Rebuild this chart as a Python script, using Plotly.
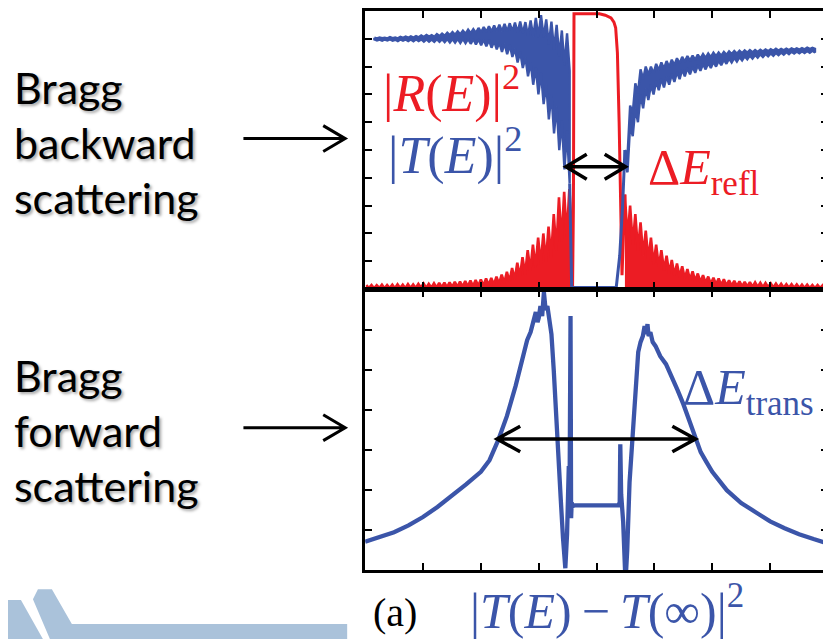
import plotly.graph_objects as go

# page body has an 8px margin: the figure is drawn from (8,8) of the window
OFF = 8
W, H = 831 - OFF, 639 - OFF

# ---------------- data ----------------
# top panel, |T(E)|^2 : teeth maxima / minima left of the stop band (x0=0.16, step 0.09)
t_left_hi = [0.904, 0.905, 0.904, 0.906, 0.905, 0.907, 0.908, 0.909, 0.910, 0.912,
             0.914, 0.913, 0.917, 0.919, 0.922, 0.924, 0.927, 0.929, 0.933, 0.935,
             0.939, 0.942, 0.945, 0.948, 0.951, 0.954, 0.956, 0.958, 0.962, 0.960,
             0.966, 0.975, 0.985, 0.970, 0.962, 0.950, 0.930, 0.920]
t_left_lo = [0.894, 0.893, 0.894, 0.893, 0.892, 0.893, 0.892, 0.891, 0.892, 0.890,
             0.890, 0.889, 0.889, 0.888, 0.887, 0.886, 0.885, 0.884, 0.882, 0.880,
             0.877, 0.873, 0.868, 0.862, 0.853, 0.845, 0.835, 0.815, 0.795, 0.765,
             0.735, 0.700, 0.665, 0.610, 0.560, 0.500, 0.430, 0.380]
# inside the stop band
t_gap_x = [3.535, 3.55, 3.57, 4.34, 4.40, 4.45, 4.49]
t_gap_y = [0.380, 0.15, 0.006, 0.006, 0.12, 0.30, 0.50]
# right of the stop band (x0=4.49, step 0.09)
t_right_hi = [0.50, 0.66, 0.74, 0.79, 0.80, 0.80, 0.81, 0.815, 0.82, 0.825,
              0.83, 0.835, 0.838, 0.840, 0.843, 0.845, 0.847, 0.850, 0.851, 0.853,
              0.855, 0.856, 0.857, 0.858, 0.859, 0.860, 0.861, 0.862, 0.863, 0.864,
              0.864, 0.865, 0.866, 0.866, 0.867, 0.868, 0.868]
t_right_lo = [0.42, 0.55, 0.60, 0.65, 0.68, 0.70, 0.715, 0.725, 0.735, 0.745,
              0.755, 0.765, 0.772, 0.778, 0.785, 0.790, 0.795, 0.800, 0.805, 0.810,
              0.815, 0.818, 0.822, 0.826, 0.829, 0.832, 0.835, 0.837, 0.839, 0.841,
              0.843, 0.845, 0.847, 0.848, 0.849, 0.850, 0.851]

# top panel, |R(E)|^2 : teeth left of the band (x0=0.02, step 0.09)
r_left_hi = [0.014, 0.015, 0.014, 0.016, 0.015, 0.016, 0.017, 0.016, 0.018, 0.017,
             0.019, 0.020, 0.019, 0.021, 0.022, 0.023, 0.024, 0.026, 0.027, 0.029,
             0.031, 0.033, 0.035, 0.038, 0.040, 0.045, 0.052, 0.062, 0.076, 0.095,
             0.115, 0.140, 0.160, 0.185, 0.200, 0.225, 0.270, 0.330, 0.350, 0.360]
r_left_lo = [0.004, 0.003, 0.004, 0.003, 0.004, 0.003, 0.004, 0.003, 0.004, 0.004,
             0.005, 0.004, 0.005, 0.005, 0.006, 0.006, 0.007, 0.007, 0.008, 0.009,
             0.010, 0.011, 0.012, 0.014, 0.016, 0.019, 0.022, 0.027, 0.034, 0.044,
             0.054, 0.066, 0.078, 0.090, 0.100, 0.115, 0.140, 0.170, 0.190, 0.200]
# reflection band
r_band_x = [3.575, 3.585, 3.60, 3.61, 4.05, 4.15, 4.25, 4.30, 4.33, 4.36, 4.39, 4.42, 4.44, 4.49]
r_band_y = [0.200, 0.006, 0.30, 0.99, 0.99, 0.985, 0.975, 0.96, 0.94, 0.85, 0.60, 0.30, 0.05, 0.34]
# right of the band (x0=4.49, step 0.09)
r_right_hi = [0.34, 0.30, 0.27, 0.24, 0.21, 0.185, 0.16, 0.14, 0.12, 0.105,
              0.092, 0.082, 0.072, 0.064, 0.056, 0.050, 0.045, 0.041, 0.038, 0.035,
              0.032, 0.030, 0.028, 0.026, 0.025, 0.024, 0.023, 0.022, 0.021, 0.020,
              0.019, 0.018, 0.018, 0.017, 0.016, 0.016, 0.015, 0.015, 0.014, 0.014]
r_right_lo = [0.180, 0.160, 0.140, 0.120, 0.105, 0.090, 0.080, 0.068, 0.058, 0.050,
              0.044, 0.038, 0.033, 0.029, 0.025, 0.022, 0.019, 0.017, 0.015, 0.013,
              0.012, 0.011, 0.010, 0.009, 0.008, 0.008, 0.007, 0.007, 0.006, 0.006,
              0.005, 0.005, 0.005, 0.004, 0.004, 0.004, 0.004, 0.004, 0.004, 0.004]

# bottom panel, |T(E) - T(inf)|^2
b_x = [0.0, 0.25, 0.5, 0.75, 1.0, 1.25, 1.5, 1.75, 2.0, 2.15, 2.3, 2.45, 2.6, 2.7, 2.8,
       2.86, 2.9, 2.95, 2.98, 3.0, 3.03, 3.06, 3.09, 3.12, 3.15, 3.18, 3.22, 3.26, 3.30,
       3.34, 3.38, 3.42, 3.46, 3.49, 3.52, 3.535, 3.55, 3.56, 3.57, 3.58, 3.62, 4.0, 4.38,
       4.40, 4.41, 4.425, 4.46, 4.5, 4.53, 4.57, 4.62, 4.68, 4.72, 4.76, 4.8, 4.83, 4.86,
       4.88, 4.9, 4.93, 4.97, 5.02, 5.1, 5.2, 5.3, 5.4, 5.5, 5.6, 5.7, 5.8, 5.9, 6.0, 6.25,
       6.5, 6.75, 7.0, 7.25, 7.5, 7.75, 8.0]
b_y = [0.71, 0.82, 0.95, 1.12, 1.33, 1.58, 1.85, 2.15, 2.46, 2.75, 3.25, 3.85, 4.6, 5.2, 5.75,
       5.95, 6.15, 6.45, 6.2, 6.3, 6.6, 6.35, 6.95, 6.5, 6.6, 6.2, 5.9, 5.0, 3.8,
       2.6, 1.8, 0.8, 0.05, 0.9, 2.6, 2.3, 6.35, 1.3, 1.7, 1.6, 1.62, 1.62, 1.62,
       1.7, 3.15, 1.9, 1.2, -0.3, 0.5, 2.2, 3.3, 4.7, 5.45, 5.7, 5.85, 6.1, 5.9,
       6.15, 5.85, 5.95, 5.7, 5.6, 5.35, 5.15, 4.85, 4.5, 4.15, 3.75, 3.3, 2.95, 2.7, 2.46, 2.0,
       1.68, 1.45, 1.22, 1.05, 0.9, 0.78, 0.67]

x_ticks = [1, 2, 3, 4, 5, 6, 7]
y_ticks_top = [0.1, 0.2, 0.3, 0.4, 0.5, 0.6, 0.7, 0.8, 0.9]
y_ticks_bot = [1, 2, 3, 4, 5, 6]

RED = "#ec1c24"
BLUE = "#3b55a9"


def teeth(x0, step, hi, lo):
    xs, ys = [], []
    for i, (h, l) in enumerate(zip(hi, lo)):
        xs += [x0 + i * step, x0 + i * step + step / 2]
        ys += [h, l]
    return xs, ys


def band_polygon(x0, step, hi, lo):
    """rapidly oscillating curve rendered as a solid band with serrated edges"""
    up_x, up_y, dn_x, dn_y = [], [], [], []
    for i, (h, l) in enumerate(zip(hi, lo)):
        xa, xb = x0 + i * step, x0 + i * step + step / 2
        d = h - l
        up_x += [xa, xb]
        up_y += [h, h - 0.25 * d]
        dn_x += [xa, xb]
        dn_y += [l + 0.35 * d, l]
    return up_x + dn_x[::-1] + [up_x[0]], up_y + dn_y[::-1] + [up_y[0]]


fig = go.Figure()


def add_line(x, y, color, width, xa="x", ya="y", fill=None):
    fig.add_trace(go.Scatter(x=x, y=y, mode="lines", line=dict(color=color, width=width),
                             fill=fill, fillcolor=color if fill else None,
                             xaxis=xa, yaxis=ya, showlegend=False, hoverinfo="skip"))


# |R(E)|^2
rlx, rly = teeth(0.02, 0.09, r_left_hi, r_left_lo)
rrx, rry = teeth(4.49, 0.09, r_right_hi, r_right_lo)
add_line(rlx, rly, RED, 2.6, fill="tozeroy")
add_line(rrx, rry, RED, 2.6, fill="tozeroy")
add_line(r_band_x, r_band_y, RED, 3)

# |T(E)|^2
for x0, hi, lo in ((0.16, t_left_hi, t_left_lo), (4.49, t_right_hi, t_right_lo)):
    px_, py_ = band_polygon(x0, 0.09, hi, lo)
    add_line(px_, py_, BLUE, 2.4, fill="toself")
add_line(t_gap_x, t_gap_y, BLUE, 3)

# bottom panel
add_line(b_x, b_y, BLUE, 4.3, xa="x2", ya="y2")


def px(x):
    return (x - OFF) / W


def py(y):
    return 1 - (y - OFF) / H


axis_common = dict(showgrid=False, zeroline=False, showticklabels=False,
                   ticks="inside", ticklen=7, tickwidth=2, tickcolor="black",
                   showline=True, linecolor="black", linewidth=2.5, mirror="ticks")

fig.update_layout(
    width=W, height=H, margin=dict(l=0, r=0, t=0, b=0),
    paper_bgcolor="white", plot_bgcolor="white",
    xaxis=dict(domain=[px(366), px(830)], range=[0, 8], tickvals=x_ticks, anchor="y", **axis_common),
    yaxis=dict(domain=[py(288), py(9)], range=[0, 1], tickvals=y_ticks_top, anchor="x", **axis_common),
    xaxis2=dict(domain=[px(366), px(830)], range=[0, 8], tickvals=x_ticks, anchor="y2", **axis_common),
    yaxis2=dict(domain=[py(570), py(289)], range=[0, 7], tickvals=y_ticks_bot, anchor="x2", **axis_common),
)

shapes = []


# double-headed arrows with open chevron heads (data coordinates)
def dbl_arrow(xr, yr, x1, x2, y, dx, dy):
    path = (f"M {x1},{y} L {x2},{y} "
            f"M {x1+dx},{y+dy} L {x1},{y} L {x1+dx},{y-dy} "
            f"M {x2-dx},{y+dy} L {x2},{y} L {x2-dx},{y-dy}")
    return dict(type="path", xref=xr, yref=yr, path=path,
                line=dict(color="black", width=3.5))


shapes.append(dbl_arrow("x", "y", 3.47, 4.50, 0.44, 0.36, 0.045))
shapes.append(dbl_arrow("x2", "y2", 2.28, 5.71, 3.28, 0.40, 0.32))


# left single arrows (paper coordinates)
def right_arrow(x1, x2, y):
    path = (f"M {px(x1)},{py(y)} L {px(x2)},{py(y)} "
            f"M {px(x2-22)},{py(y-13)} L {px(x2)},{py(y)} L {px(x2-22)},{py(y+13)}")
    return dict(type="path", xref="paper", yref="paper", path=path,
                line=dict(color="black", width=3))


shapes.append(right_arrow(244, 346, 137))
shapes.append(right_arrow(244, 346, 427))

# decorative logo at bottom left
LOGO = "#aac2da"
logo_a = [(0, 612), (7, 600), (21, 600), (43, 639), (0, 639)]
logo_b = [(33, 599), (38, 589), (52, 589), (72, 624), (348, 624), (348, 639), (50, 639)]
for poly in (logo_a, logo_b):
    p = "M " + " L ".join(f"{px(a)},{py(b)}" for a, b in poly) + " Z"
    shapes.append(dict(type="path", xref="paper", yref="paper", path=p,
                       fillcolor=LOGO, line=dict(width=0), layer="below"))

fig.update_layout(shapes=shapes)

ann = []
SANS = dict(family="Lato, Calibri, 'Open Sans', sans-serif", size=43, color="black",
            shadow="2px 2px 3px rgba(0,0,0,0.35)")
for txt, yc in [("Bragg", 86), ("backward", 141), ("scattering", 196),
                ("Bragg", 375), ("forward", 430), ("scattering", 485)]:
    ann.append(dict(text=txt, x=px(12), y=py(yc), xref="paper", yref="paper",
                    xanchor="left", yanchor="middle", showarrow=False, font=SANS))

SERIF = "Liberation Serif, 'DejaVu Serif', serif"
ann.append(dict(text="|<i>R</i>(<i>E</i>)|<sup>2</sup>", x=px(382), y=py(88),
                xref="paper", yref="paper", xanchor="left", yanchor="middle",
                showarrow=False, font=dict(family=SERIF, size=52, color=RED)))
ann.append(dict(text="|<i>T</i>(<i>E</i>)|<sup>2</sup>", x=px(387), y=py(150),
                xref="paper", yref="paper", xanchor="left", yanchor="middle",
                showarrow=False, font=dict(family=SERIF, size=52, color=BLUE)))
ann.append(dict(text="Δ<i>E</i><sub>refl</sub>", x=px(648), y=py(170),
                xref="paper", yref="paper", xanchor="left", yanchor="middle",
                showarrow=False, font=dict(family=SERIF, size=50, color=RED)))
ann.append(dict(text="Δ<i>E</i><sub>trans</sub>", x=px(683), y=py(390),
                xref="paper", yref="paper", xanchor="left", yanchor="middle",
                showarrow=False, font=dict(family=SERIF, size=50, color=BLUE)))
ann.append(dict(text="(a)", x=px(372), y=py(612),
                xref="paper", yref="paper", xanchor="left", yanchor="middle",
                showarrow=False, font=dict(family=SERIF, size=40, color="black")))
ann.append(dict(text="|<i>T</i>(<i>E</i>)\u2009−\u2009<i>T</i>(∞)|<sup>2</sup>", x=px(469), y=py(607),
                xref="paper", yref="paper", xanchor="left", yanchor="middle",
                showarrow=False, font=dict(family=SERIF, size=50, color=BLUE)))
fig.update_layout(annotations=ann)

fig.write_html("out.html")
